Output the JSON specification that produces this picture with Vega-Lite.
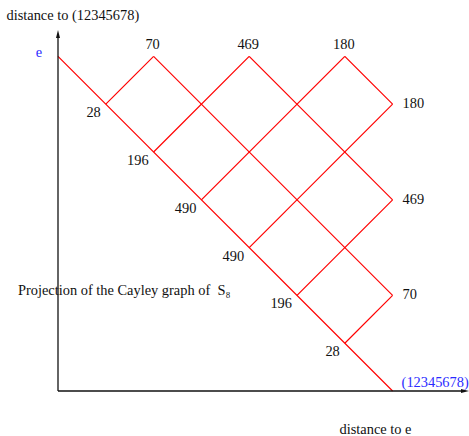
{
  "$schema": "https://vega.github.io/schema/vega-lite/v6.json",
  "width": 469,
  "height": 436,
  "autosize": "none",
  "padding": 0,
  "background": "#ffffff",
  "config": {"view": {"stroke": null}, "text": {"font": "Liberation Serif", "fontSize": 14.4, "color": "#111"}},
  "datasets": {
    "edges": [
      {"edge": "a", "x": 0, "y": 7}, {"edge": "a", "x": 7, "y": 0},
      {"edge": "b", "x": 2, "y": 7}, {"edge": "b", "x": 7, "y": 2},
      {"edge": "c", "x": 4, "y": 7}, {"edge": "c", "x": 7, "y": 4},
      {"edge": "d", "x": 6, "y": 7}, {"edge": "d", "x": 7, "y": 6},
      {"edge": "e", "x": 1, "y": 6}, {"edge": "e", "x": 2, "y": 7},
      {"edge": "f", "x": 2, "y": 5}, {"edge": "f", "x": 4, "y": 7},
      {"edge": "g", "x": 3, "y": 4}, {"edge": "g", "x": 6, "y": 7},
      {"edge": "h", "x": 4, "y": 3}, {"edge": "h", "x": 7, "y": 6},
      {"edge": "i", "x": 5, "y": 2}, {"edge": "i", "x": 7, "y": 4},
      {"edge": "j", "x": 6, "y": 1}, {"edge": "j", "x": 7, "y": 2}
    ],
    "axes": [
      {"axis": "x", "x": 0, "y": 0}, {"axis": "x", "x": 8.5, "y": 0},
      {"axis": "y", "x": 0, "y": 0}, {"axis": "y", "x": 0, "y": 7.45}
    ],
    "arrows": [
      {"x": 0, "y": 7.47, "dir": "up"},
      {"x": 8.515, "y": 0, "dir": "right"}
    ],
    "diag": [
      {"x": 1, "y": 6, "label": "28"},
      {"x": 2, "y": 5, "label": "196"},
      {"x": 3, "y": 4, "label": "490"},
      {"x": 4, "y": 3, "label": "490"},
      {"x": 5, "y": 2, "label": "196"},
      {"x": 6, "y": 1, "label": "28"}
    ],
    "top": [
      {"x": 2, "y": 7, "label": "70"},
      {"x": 4, "y": 7, "label": "469"},
      {"x": 6, "y": 7, "label": "180"}
    ],
    "right": [
      {"x": 7, "y": 6, "label": "180"},
      {"x": 7, "y": 4, "label": "469"},
      {"x": 7, "y": 2, "label": "70"}
    ],
    "start": [{"x": 0, "y": 7, "label": "e"}],
    "end": [{"x": 7, "y": 0, "label": "(12345678)"}],
    "note": [{"x": -0.837, "y": 2.092, "label": "Projection of the Cayley graph of\u00a0\u00a0S₈"}]
  },
  "encoding": {
    "x": {
      "field": "x", "type": "quantitative",
      "scale": {"domain": [-1.2134, 8.5983], "nice": false, "zero": false},
      "axis": {"domain": false, "ticks": false, "labels": false, "grid": false,
        "title": "distance to e", "titleFont": "Liberation Serif", "titleFontSize": 14.4,
        "titleFontWeight": "normal", "titleColor": "#111", "titleX": 375, "titleY": -7,
        "titleAlign": "center", "titleBaseline": "middle"}
    },
    "y": {
      "field": "y", "type": "quantitative",
      "scale": {"domain": [-0.9414, 8.1799], "nice": false, "zero": false},
      "axis": {"domain": false, "ticks": false, "labels": false, "grid": false,
        "title": "distance to (12345678)", "titleFont": "Liberation Serif", "titleFontSize": 14.4,
        "titleFontWeight": "normal", "titleColor": "#111", "titleAngle": 0, "titleX": 6, "titleY": 15,
        "titleAlign": "left", "titleBaseline": "middle"}
    }
  },
  "layer": [
    {
      "data": {"name": "edges"},
      "mark": {"type": "line", "stroke": "#ff0000", "strokeWidth": 1.2, "strokeOpacity": 1},
      "encoding": {"detail": {"field": "edge", "type": "nominal"}, "order": {"field": "x", "type": "quantitative"}}
    },
    {
      "data": {"name": "axes"},
      "mark": {"type": "line", "stroke": "#111111", "strokeWidth": 1.3},
      "encoding": {"detail": {"field": "axis", "type": "nominal"}, "order": {"field": "y", "type": "quantitative"}}
    },
    {
      "data": {"name": "arrows"},
      "mark": {"type": "point", "filled": true, "fill": "#111111", "strokeWidth": 0, "size": 64, "opacity": 1},
      "encoding": {
        "shape": {"field": "dir", "type": "nominal", "legend": null,
          "scale": {"domain": ["up", "right"], "range": ["M0,-1L0.5,1L-0.5,1Z", "M1,0L-1,-0.5L-1,0.5Z"]}}
      }
    },
    {
      "data": {"name": "diag"},
      "mark": {"type": "text", "align": "right", "baseline": "middle", "dx": -5, "dy": 9},
      "encoding": {"text": {"field": "label"}}
    },
    {
      "data": {"name": "top"},
      "mark": {"type": "text", "align": "center", "baseline": "middle", "dx": -1, "dy": -11},
      "encoding": {"text": {"field": "label"}}
    },
    {
      "data": {"name": "right"},
      "mark": {"type": "text", "align": "left", "baseline": "middle", "dx": 10, "dy": 0},
      "encoding": {"text": {"field": "label"}}
    },
    {
      "data": {"name": "start"},
      "mark": {"type": "text", "align": "center", "baseline": "middle", "dx": -19, "dy": -3, "color": "#2b2bff"},
      "encoding": {"text": {"field": "label"}}
    },
    {
      "data": {"name": "end"},
      "mark": {"type": "text", "align": "left", "baseline": "middle", "dx": 9, "dy": -8, "color": "#2b2bff"},
      "encoding": {"text": {"field": "label"}}
    },
    {
      "data": {"name": "note"},
      "mark": {"type": "text", "align": "left", "baseline": "middle"},
      "encoding": {"text": {"field": "label"}}
    }
  ]
}
